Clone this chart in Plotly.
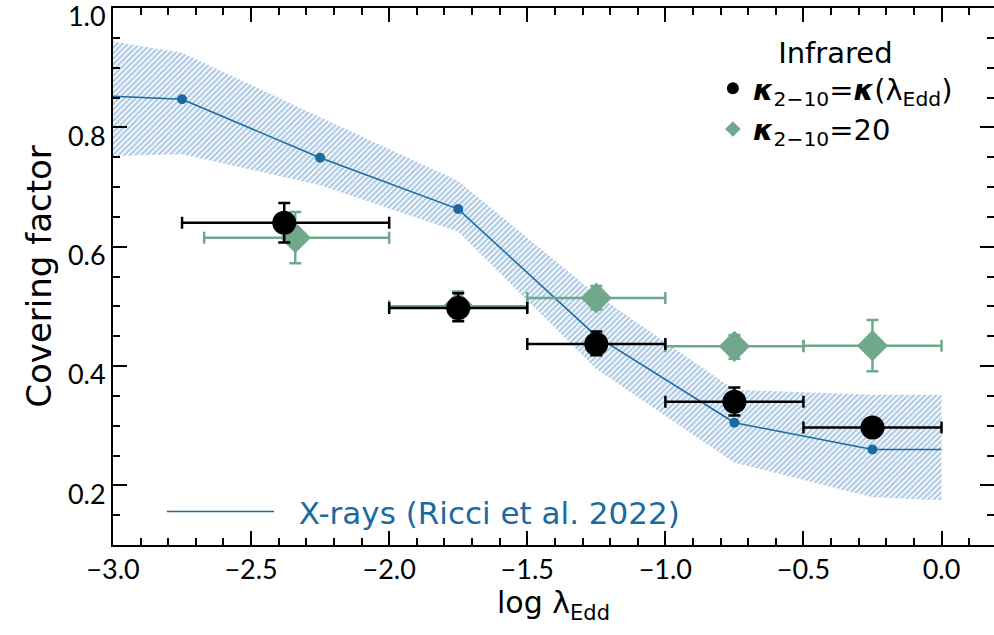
import plotly.graph_objects as go

# X-rays (Ricci et al. 2022) curve and its uncertainty band
xr_x = [-3.0, -2.75, -2.25, -1.75, -1.25, -0.75, -0.25, 0.0]
xr_y = [0.852, 0.847, 0.749, 0.663, 0.45, 0.305, 0.26, 0.26]
xr_hi = [0.944, 0.925, 0.817, 0.71, 0.52, 0.36, 0.352, 0.352]
xr_lo = [0.752, 0.755, 0.703, 0.625, 0.395, 0.238, 0.18, 0.175]
xr_pts_x = [-2.75, -2.25, -1.75, -1.25, -0.75, -0.25]
xr_pts_y = [0.847, 0.749, 0.663, 0.45, 0.305, 0.26]

# Infrared, kappa = kappa(lambda_Edd)
k1_x = [-2.38, -1.75, -1.25, -0.75, -0.25]
k1_y = [0.64, 0.497, 0.437, 0.34, 0.297]
k1_xlo = [-2.75, -2.0, -1.5, -1.0, -0.5]
k1_xhi = [-2.0, -1.5, -1.0, -0.5, 0.0]
k1_ylo = [0.607, 0.475, 0.418, 0.317, 0.285]
k1_yhi = [0.673, 0.522, 0.458, 0.364, 0.308]

# Infrared, kappa = 20
k2_x = [-2.34, -1.75, -1.25, -0.75, -0.25]
k2_y = [0.615, 0.50, 0.514, 0.433, 0.434]
k2_xlo = [-2.67, -2.0, -1.5, -1.0, -0.5]
k2_xhi = [-2.0, -1.5, -1.0, -0.5, 0.0]
k2_ylo = [0.572, 0.48, 0.495, 0.412, 0.391]
k2_yhi = [0.658, 0.525, 0.534, 0.452, 0.477]

y_ticks = [0.2, 0.4, 0.6, 0.8, 1.0]

BLUE = "#1b6a9f"
HATCH = "#5a93cb"
GREEN = "#6fa88a"
NUM_FONT = "Lato"
TXT_FONT = "DejaVu Sans"


def errs(c, lo, hi):
    return [h - v for v, h in zip(c, hi)], [v - l for v, l in zip(c, lo)]


fig = go.Figure()

fig.add_trace(go.Scatter(
    x=xr_x + xr_x[::-1], y=xr_hi + xr_lo[::-1], fill="toself", mode="lines",
    line=dict(width=0), fillcolor="rgba(0,0,0,0)",
    fillpattern=dict(shape="/", fgcolor=HATCH, bgcolor="rgba(0,0,0,0)", size=4, solidity=0.55),
    showlegend=False, hoverinfo="skip"))
fig.add_trace(go.Scatter(x=xr_x, y=xr_y, mode="lines", line=dict(color=BLUE, width=1.5),
                         name="\u00a0\u00a0X-rays (Ricci et al. 2022)", legend="legend2"))
fig.add_trace(go.Scatter(x=xr_pts_x, y=xr_pts_y, mode="markers",
                         marker=dict(color=BLUE, size=10), showlegend=False))

ex, exm = errs(k2_x, k2_xlo, k2_xhi)
ey, eym = errs(k2_y, k2_ylo, k2_yhi)
fig.add_trace(go.Scatter(
    x=k2_x, y=k2_y, mode="markers", name="<b><i>κ</i></b><sub>2−10</sub>=20",
    marker=dict(symbol="diamond", size=24, color=GREEN),
    error_x=dict(type="data", array=ex, arrayminus=exm, color=GREEN, thickness=2.5, width=6),
    error_y=dict(type="data", array=ey, arrayminus=eym, color=GREEN, thickness=2.5, width=6)))

ex, exm = errs(k1_x, k1_xlo, k1_xhi)
ey, eym = errs(k1_y, k1_ylo, k1_yhi)
fig.add_trace(go.Scatter(
    x=k1_x, y=k1_y, mode="markers", name="<b><i>κ</i></b><sub>2−10</sub>=<b><i>κ</i></b>(λ<sub>Edd</sub>)",
    marker=dict(symbol="circle", size=24, color="black"),
    error_x=dict(type="data", array=ex, arrayminus=exm, color="black", thickness=2.5, width=6),
    error_y=dict(type="data", array=ey, arrayminus=eym, color="black", thickness=2.5, width=6)))

axis = dict(showline=True, linecolor="black", linewidth=2, mirror="allticks",
            ticks="inside", ticklen=14, tickwidth=2, tickcolor="black", automargin=False,
            showgrid=False, zeroline=False, ticklabeloverflow="allow",
            tickfont=dict(family=NUM_FONT, size=27, color="black"))

fig.update_xaxes(axis, range=[-3.0, 0.19], dtick=0.5, tickformat=".1f",
                 minor=dict(ticks="inside", dtick=0.1, ticklen=7, tickwidth=1.5, tickcolor="black"),
                 title=dict(text="log λ<sub>Edd</sub>", font=dict(family=TXT_FONT, size=30), standoff=6))
fig.update_yaxes(axis, range=[0.1, 1.0], tickvals=y_ticks, tickformat=".1f", ticklabelshift=9,
                 minor=dict(ticks="inside", dtick=0.05, ticklen=7, tickwidth=1.5, tickcolor="black"),
                 title=dict(text="Covering factor", font=dict(family=TXT_FONT, size=34), standoff=6))

fig.update_layout(
    width=994, height=635, plot_bgcolor="white", paper_bgcolor="white",
    margin=dict(l=113, r=0, t=8, b=90),
    font=dict(family=TXT_FONT, color="black", size=29),
    legend=dict(x=0.959, y=0.968, xanchor="right", yanchor="top", traceorder="reversed",
                title=dict(text="Infrared", side="top center", font=dict(size=29)),
                bgcolor="rgba(0,0,0,0)", font=dict(size=29), itemsizing="constant",
                tracegroupgap=0),
    legend2=dict(x=0.0556, y=0.0615, xanchor="left", yanchor="middle", itemwidth=107,
                 bgcolor="rgba(0,0,0,0)", font=dict(family=TXT_FONT, size=31, color=BLUE)),
)

fig.write_html("out.html", config={"displayModeBar": False},
               post_script="document.body.style.margin='0px';")
